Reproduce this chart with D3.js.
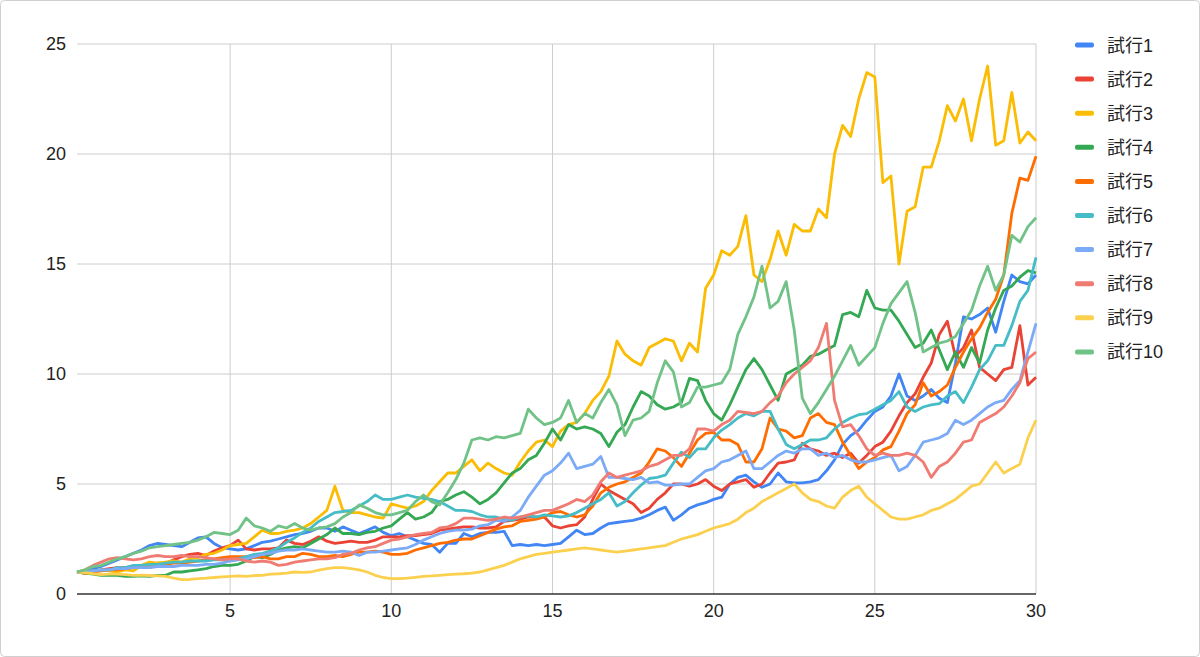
<!DOCTYPE html>
<html>
<head>
<meta charset="utf-8">
<script src="https://cdn.jsdelivr.net/npm/d3@7"></script>
<style>
  body { margin: 0; background: #fff; }
  svg { display: block; }
</style>
</head>
<body>
<svg id="chart" width="1200" height="657"></svg>
<script>
var seriesNames = ["試行1", "試行2", "試行3", "試行4", "試行5", "試行6", "試行7", "試行8", "試行9", "試行10"];
var colors = ["#4285f4", "#ea4335", "#fbbc04", "#34a853", "#ff6d01", "#46bdc6", "#7baaf7", "#f07b72", "#fcd04f", "#71c287"];
var xTicks = [5, 10, 15, 20, 25, 30];
var yTicks = [0, 5, 10, 15, 20, 25];
// one value every quarter year, from 0.25 to 30
var years = d3.range(1, 121).map(i => i / 4);

var s1 = [
  1.0, 1.05, 1.15, 1.25, 1.4, 1.55, 1.7, 1.85,
  2.0, 2.2, 2.3, 2.25, 2.2, 2.15, 2.35, 2.55,
  2.6, 2.3, 2.1, 2.05, 2.0, 2.05, 2.2, 2.35,
  2.4, 2.5, 2.6, 2.7, 2.75, 2.85, 3.0, 3.0,
  2.85, 3.05, 2.9, 2.75, 2.9, 3.05, 2.8, 2.65,
  2.75, 2.6, 2.45, 2.3, 2.25, 1.9, 2.3, 2.3,
  2.75, 2.6, 2.75, 2.8, 2.8, 2.85, 2.2, 2.25,
  2.2, 2.25, 2.2, 2.25, 2.3, 2.6, 2.9, 2.7,
  2.75, 3.0, 3.2, 3.25, 3.3, 3.35, 3.45, 3.6,
  3.8, 3.95, 3.35, 3.6, 3.9, 4.05, 4.15, 4.3,
  4.4, 5.0, 5.3, 5.4, 5.1, 4.85, 5.0, 5.5,
  5.1, 5.05, 5.05, 5.1, 5.2, 5.6, 6.1, 6.8,
  7.2, 7.45, 7.9, 8.3, 8.5, 9.0, 10.0, 9.0,
  8.8, 9.0, 9.3, 8.9, 8.7, 10.5, 12.6, 12.5,
  12.7, 13.0, 11.9, 13.3, 14.5, 14.2, 14.1, 14.5
];
var s2 = [
  1.0, 0.95, 1.0, 1.1, 1.15, 1.2, 1.2, 1.25,
  1.3, 1.35, 1.4, 1.4, 1.55, 1.7, 1.8, 1.85,
  1.75, 1.95, 2.1, 2.2, 2.45, 2.05, 2.0, 2.05,
  2.05, 2.1, 2.45, 2.3, 2.25, 2.4, 2.6, 2.4,
  2.3, 2.35, 2.4, 2.35, 2.35, 2.45, 2.6, 2.6,
  2.6, 2.65, 2.65, 2.7, 2.75, 2.9, 2.95, 3.0,
  3.05, 3.05, 3.0, 3.0, 3.05, 3.3, 3.35, 3.4,
  3.5, 3.5, 3.5, 3.1, 3.0, 3.1, 3.15, 3.5,
  4.3, 5.0, 4.7, 4.5, 4.3, 4.1, 3.7, 3.9,
  4.3, 4.6, 5.0, 5.0, 4.9, 5.0, 5.2, 4.9,
  4.7, 5.0, 5.1, 5.2, 4.85, 5.0, 5.5, 5.95,
  6.0, 6.1, 6.85, 6.6, 6.5, 6.3, 6.4, 6.2,
  6.4, 5.95, 6.3, 6.7, 6.9, 7.4, 8.1, 8.7,
  9.1, 9.85, 10.5, 11.8, 12.4, 10.8, 11.2, 12.0,
  10.3, 10.0, 9.7, 10.2, 10.3, 12.2, 9.5, 9.85
];
var s3 = [
  1.0, 1.0, 1.05, 1.1, 1.05, 1.0, 1.1, 1.05,
  1.3, 1.45, 1.4, 1.45, 1.5, 1.45, 1.6, 1.65,
  1.8, 1.85, 2.0, 2.2, 2.25, 2.3, 2.6, 2.9,
  2.75, 2.75, 2.85, 2.9, 3.0, 3.2, 3.5, 3.8,
  4.9, 3.8, 3.7, 3.7, 3.6, 3.5, 3.45, 4.1,
  4.0, 3.9, 4.0, 4.2, 4.7, 5.1, 5.5, 5.5,
  5.8, 6.1, 5.6, 5.95, 5.7, 5.5, 5.4, 6.0,
  6.5, 6.9, 7.0, 6.7, 7.4, 7.7, 7.8, 8.2,
  8.8, 9.2, 9.9, 11.5, 10.9, 10.6, 10.4, 11.2,
  11.4, 11.6, 11.5, 10.6, 11.4, 11.0, 13.9, 14.5,
  15.6, 15.4, 15.8, 17.2, 14.5, 14.2, 15.2, 16.5,
  15.4, 16.8, 16.5, 16.5, 17.5, 17.1, 20.0, 21.3,
  20.8, 22.5, 23.7, 23.5, 18.7, 19.0, 15.0, 17.4,
  17.6, 19.4, 19.4, 20.6, 22.2, 21.5, 22.5, 20.6,
  22.5, 24.0, 20.4, 20.6, 22.8, 20.5, 21.0, 20.6
];
var s4 = [
  1.0, 0.95, 0.9, 0.85, 0.85, 0.85, 0.8, 0.8,
  0.82, 0.8, 0.85, 0.85, 1.0, 1.0, 1.05, 1.1,
  1.15, 1.25, 1.3, 1.3, 1.35, 1.5, 1.7, 1.65,
  1.8, 2.0, 2.1, 2.15, 2.1, 2.3, 2.5, 2.7,
  3.0, 2.75, 2.75, 2.7, 2.8, 2.85, 3.0, 3.1,
  3.4, 3.7, 3.4, 3.5, 3.7, 4.2, 4.3, 4.5,
  4.65, 4.4, 4.1, 4.3, 4.6, 5.05, 5.5, 5.7,
  6.1, 6.3, 6.85, 7.5, 7.0, 7.7, 7.5, 7.6,
  7.5, 7.3, 6.7, 7.35, 7.7, 8.5, 9.2, 9.0,
  8.6, 8.4, 8.5, 8.7, 9.8, 9.7, 8.8, 8.2,
  7.9, 8.6, 9.4, 10.2, 10.7, 10.2, 9.5, 8.8,
  10.0, 10.2, 10.4, 10.8, 10.9, 11.1, 11.3, 12.7,
  12.8, 12.6, 13.8, 13.0, 12.9, 12.9, 12.4, 11.8,
  11.2, 11.4, 12.0, 11.1, 10.2, 11.0, 10.3, 11.2,
  10.5, 12.0, 13.0, 13.8, 14.0, 14.4, 14.7, 14.6
];
var s5 = [
  1.0, 0.95, 1.0, 1.05, 1.1, 1.1, 1.15, 1.2,
  1.25, 1.2, 1.3, 1.35, 1.4, 1.4, 1.45, 1.5,
  1.55, 1.6, 1.65, 1.7, 1.7, 1.7, 1.65, 1.7,
  1.6, 1.6, 1.7, 1.7, 1.85, 1.8, 1.7, 1.7,
  1.75, 1.7, 1.8, 1.9, 1.9, 1.95, 1.9, 1.8,
  1.8, 1.85, 2.0, 2.1, 2.2, 2.3, 2.35, 2.45,
  2.5, 2.5, 2.65, 2.8, 2.95, 3.05, 3.1, 3.3,
  3.35, 3.4, 3.5, 3.7, 3.75, 3.6, 3.5, 3.6,
  4.0, 4.6, 4.85, 5.0, 5.1, 5.3, 5.5, 6.0,
  6.6, 6.5, 6.2, 5.8, 6.4, 7.0, 7.3, 7.35,
  7.0, 7.0, 6.8, 6.0, 6.0, 6.6, 8.0, 7.5,
  7.4, 7.1, 7.2, 8.0, 8.2, 7.8, 7.7, 6.9,
  6.3, 5.7, 6.0, 6.2, 6.55, 6.7, 7.4, 8.2,
  8.6, 9.6, 9.0, 9.2, 9.5, 10.3, 11.0, 11.6,
  12.1, 12.8, 13.4, 14.5, 17.3, 18.9, 18.8, 19.9
];
var s6 = [
  1.0, 1.0, 1.05, 1.1, 1.1, 1.2, 1.2, 1.3,
  1.3, 1.35, 1.35, 1.4, 1.45, 1.45, 1.5, 1.5,
  1.5, 1.55, 1.55, 1.55, 1.6, 1.7, 1.8, 1.85,
  1.95, 2.1, 2.35, 2.55, 2.8, 3.0, 3.3, 3.5,
  3.7, 3.75, 3.8, 4.0, 4.2, 4.5, 4.3, 4.3,
  4.4, 4.5, 4.4, 4.35, 4.3, 4.2, 4.0, 3.8,
  3.8, 3.75, 3.6, 3.5, 3.5, 3.4, 3.35, 3.5,
  3.55, 3.5, 3.6, 3.55, 3.5, 3.55, 3.7, 3.9,
  4.1, 4.3, 4.6, 4.0, 4.2, 4.6, 4.95, 5.25,
  5.3, 5.4, 5.95, 6.45, 6.2, 6.6, 6.6, 7.1,
  7.45, 7.7, 8.0, 8.2, 8.1, 8.3, 8.3, 7.5,
  6.8, 6.6, 6.8, 7.0, 7.0, 7.1, 7.5, 7.8,
  8.0, 8.15, 8.2, 8.4, 8.6, 8.8, 9.2, 8.5,
  8.3, 8.5, 8.6, 8.65, 9.0, 9.2, 8.7, 9.4,
  10.2, 10.6, 11.3, 11.3, 12.2, 13.3, 13.8, 15.3
];
var s7 = [
  1.0, 1.0, 1.05, 1.1, 1.1, 1.15, 1.15, 1.2,
  1.2, 1.2, 1.25, 1.25, 1.25, 1.3, 1.3, 1.3,
  1.35, 1.35, 1.4, 1.5, 1.55, 1.6, 1.7, 1.8,
  1.85, 1.95, 2.0, 2.0, 2.05, 2.0, 1.95, 1.9,
  1.9, 1.95, 1.9, 1.75, 1.9, 1.9, 1.95, 2.0,
  2.05, 2.1, 2.25, 2.45, 2.6, 2.75, 2.85, 2.9,
  2.9, 2.95, 3.1, 3.15, 3.35, 3.3, 3.5, 3.8,
  4.4, 4.9, 5.4, 5.6, 5.95, 6.4, 5.7, 5.8,
  5.9, 6.25, 5.3, 5.3, 5.25, 5.2, 5.3, 5.05,
  5.1, 4.95, 4.95, 5.0, 5.0, 5.3, 5.6, 5.7,
  6.0, 6.1, 6.3, 6.5, 5.7, 5.7, 6.0, 6.3,
  6.5, 6.4, 6.6, 6.6, 6.3, 6.4, 6.2, 6.3,
  6.1, 6.0, 6.0, 6.1, 6.2, 6.3, 5.6, 5.8,
  6.3, 6.9, 7.0, 7.1, 7.3, 7.9, 7.7, 7.9,
  8.2, 8.5, 8.7, 8.8, 9.3, 9.7, 11.0, 12.3
];
var s8 = [
  1.0, 1.1, 1.3, 1.45, 1.6, 1.65, 1.6, 1.55,
  1.6, 1.7, 1.75, 1.7, 1.7, 1.75, 1.7, 1.7,
  1.65, 1.6, 1.55, 1.6, 1.6, 1.5, 1.45, 1.5,
  1.45, 1.3, 1.35, 1.45, 1.5, 1.55, 1.6, 1.6,
  1.65, 1.8, 1.85, 2.0, 2.1, 2.15, 2.3, 2.45,
  2.5, 2.6, 2.7, 2.75, 2.8, 3.0, 3.05, 3.2,
  3.45, 3.45, 3.4, 3.35, 3.4, 3.5, 3.45, 3.5,
  3.6, 3.7, 3.8, 3.8, 3.95, 4.1, 4.3, 4.2,
  4.5, 5.1, 5.5, 5.3, 5.4, 5.5, 5.6, 5.8,
  5.9, 6.1, 6.3, 6.3, 6.6, 7.5, 7.5, 7.4,
  7.7, 7.9, 8.3, 8.25, 8.2, 8.3, 8.7, 9.0,
  9.6, 10.0, 10.3, 10.6, 11.2, 12.3, 8.8, 7.6,
  7.7, 7.2, 6.6, 6.3, 6.4, 6.3, 6.3, 6.4,
  6.3, 6.0, 5.3, 5.8, 6.0, 6.4, 6.9, 7.0,
  7.8, 8.0, 8.2, 8.5, 9.0, 9.6, 10.7, 11.0
];
var s9 = [
  1.0, 0.97, 0.92, 0.88, 0.9, 0.9, 0.88, 0.85,
  0.86, 0.84, 0.82, 0.8, 0.72, 0.65, 0.66, 0.7,
  0.72, 0.75, 0.78, 0.8, 0.82, 0.8, 0.84, 0.85,
  0.9, 0.92, 0.95, 1.0, 0.98, 1.0, 1.08, 1.15,
  1.2, 1.2, 1.15, 1.1, 1.0, 0.85, 0.75, 0.7,
  0.7, 0.72, 0.76, 0.8, 0.82, 0.85, 0.88, 0.9,
  0.92, 0.95, 1.0, 1.1, 1.2, 1.3, 1.45, 1.6,
  1.7, 1.8, 1.85, 1.9, 1.95, 2.0, 2.05, 2.1,
  2.05, 2.0, 1.95, 1.9, 1.95, 2.0, 2.05, 2.1,
  2.15, 2.2, 2.35, 2.5, 2.6, 2.7, 2.85, 3.0,
  3.1, 3.2, 3.4, 3.7, 3.9, 4.2, 4.4, 4.6,
  4.8, 5.0, 4.6, 4.3, 4.2, 4.0, 3.9, 4.4,
  4.7, 4.9, 4.4, 4.1, 3.8, 3.5, 3.4, 3.4,
  3.5, 3.6, 3.8, 3.9, 4.1, 4.3, 4.6, 4.9,
  5.0, 5.5, 6.0, 5.5, 5.7, 5.9, 7.1, 7.9
];
var s10 = [
  1.0, 1.1, 1.25, 1.3, 1.45, 1.6, 1.7, 1.85,
  1.95, 2.1, 2.15, 2.2, 2.25, 2.3, 2.35, 2.45,
  2.6, 2.8, 2.75, 2.7, 2.9, 3.45, 3.1, 3.0,
  2.85, 3.1, 3.0, 3.2, 3.0, 2.9, 3.0, 3.05,
  3.2, 3.5, 3.7, 4.05, 3.9, 3.7, 3.6, 3.6,
  3.7, 3.8, 4.2, 4.5, 4.2, 4.05, 4.6, 5.2,
  5.95, 7.0, 7.1, 7.0, 7.15, 7.1, 7.2, 7.3,
  8.4, 8.0, 7.7, 7.8, 8.0, 8.8, 7.8, 8.2,
  8.0, 8.7, 9.3, 8.6, 7.2, 7.9, 8.0, 8.3,
  9.6, 10.6, 10.1, 8.5, 8.7, 9.4, 9.4, 9.5,
  9.6, 10.2, 11.8, 12.6, 13.5, 14.9, 13.0, 13.3,
  14.2, 12.0, 8.9, 8.2, 8.7, 9.3, 9.9, 10.6,
  11.3, 10.4, 10.8, 11.2, 12.3, 13.2, 13.7, 14.2,
  12.8, 11.0, 11.2, 11.4, 11.5, 11.7, 12.3, 12.9,
  14.0, 14.9, 13.8, 14.5, 16.3, 16.0, 16.7, 17.1
];
var allSeries = [s1, s2, s3, s4, s5, s6, s7, s8, s9, s10];

var svg = d3.select("svg#chart"),
    font = "'Liberation Sans', Arial, 'Noto Sans CJK JP', sans-serif",
    plot = { left: 77, right: 1036, top: 44, bottom: 594 },
    x_scale = d3.scaleLinear().domain([0.25, 30]).range([plot.left, plot.right]),
    y_scale = d3.scaleLinear().domain([0, 25]).range([plot.bottom, plot.top]);

svg.append("rect")
    .attr("x", 0.5).attr("y", 0.5)
    .attr("width", 1199).attr("height", 656)
    .attr("rx", 4)
    .attr("fill", "#fff")
    .attr("stroke", "#cfcfcf");

var grid = svg.append("g");

grid.selectAll(".hgrid")
    .data(yTicks.filter(d => d > 0))
    .enter()
    .append("line")
    .attr("x1", plot.left).attr("x2", plot.right)
    .attr("y1", d => y_scale(d)).attr("y2", d => y_scale(d))
    .attr("stroke", "#cccccc")
    .attr("stroke-width", 1);

grid.selectAll(".vgrid")
    .data(xTicks)
    .enter()
    .append("line")
    .attr("x1", d => x_scale(d)).attr("x2", d => x_scale(d))
    .attr("y1", plot.top).attr("y2", plot.bottom)
    .attr("stroke", "#cccccc")
    .attr("stroke-width", 1);

grid.append("line")
    .attr("x1", plot.left).attr("x2", plot.right)
    .attr("y1", y_scale(0)).attr("y2", y_scale(0))
    .attr("stroke", "#333")
    .attr("stroke-width", 1.5);

svg.append("g")
    .selectAll("text")
    .data(yTicks)
    .enter()
    .append("text")
    .attr("x", 66)
    .attr("y", d => y_scale(d) + 6)
    .attr("text-anchor", "end")
    .attr("font-family", font)
    .attr("font-size", "18px")
    .attr("fill", "#222")
    .text(d => d);

svg.append("g")
    .selectAll("text")
    .data(xTicks)
    .enter()
    .append("text")
    .attr("x", d => x_scale(d))
    .attr("y", 617)
    .attr("text-anchor", "middle")
    .attr("font-family", font)
    .attr("font-size", "18px")
    .attr("fill", "#222")
    .text(d => d);

var line = d3.line()
    .x((d, i) => x_scale(years[i]))
    .y(d => y_scale(d));

svg.append("g")
    .selectAll("path")
    .data(allSeries)
    .enter()
    .append("path")
    .attr("d", d => line(d))
    .attr("fill", "none")
    .attr("stroke", (d, i) => colors[i])
    .attr("stroke-width", 2.8)
    .attr("stroke-linejoin", "round");

var legend = svg.append("g").attr("class", "legend");

var rows = legend.selectAll("g")
    .data(seriesNames)
    .enter()
    .append("g")
    .attr("transform", (d, i) => "translate(1075, " + (45 + i * 34.1) + ")");

rows.append("rect")
    .attr("x", 0).attr("y", -2.5)
    .attr("width", 19).attr("height", 5)
    .attr("rx", 2)
    .attr("fill", (d, i) => colors[i]);

rows.append("text")
    .attr("x", 32)
    .attr("y", 6.5)
    .attr("font-family", font)
    .attr("font-size", "18px")
    .attr("fill", "#222")
    .text(d => d);
</script>
</body>
</html>
